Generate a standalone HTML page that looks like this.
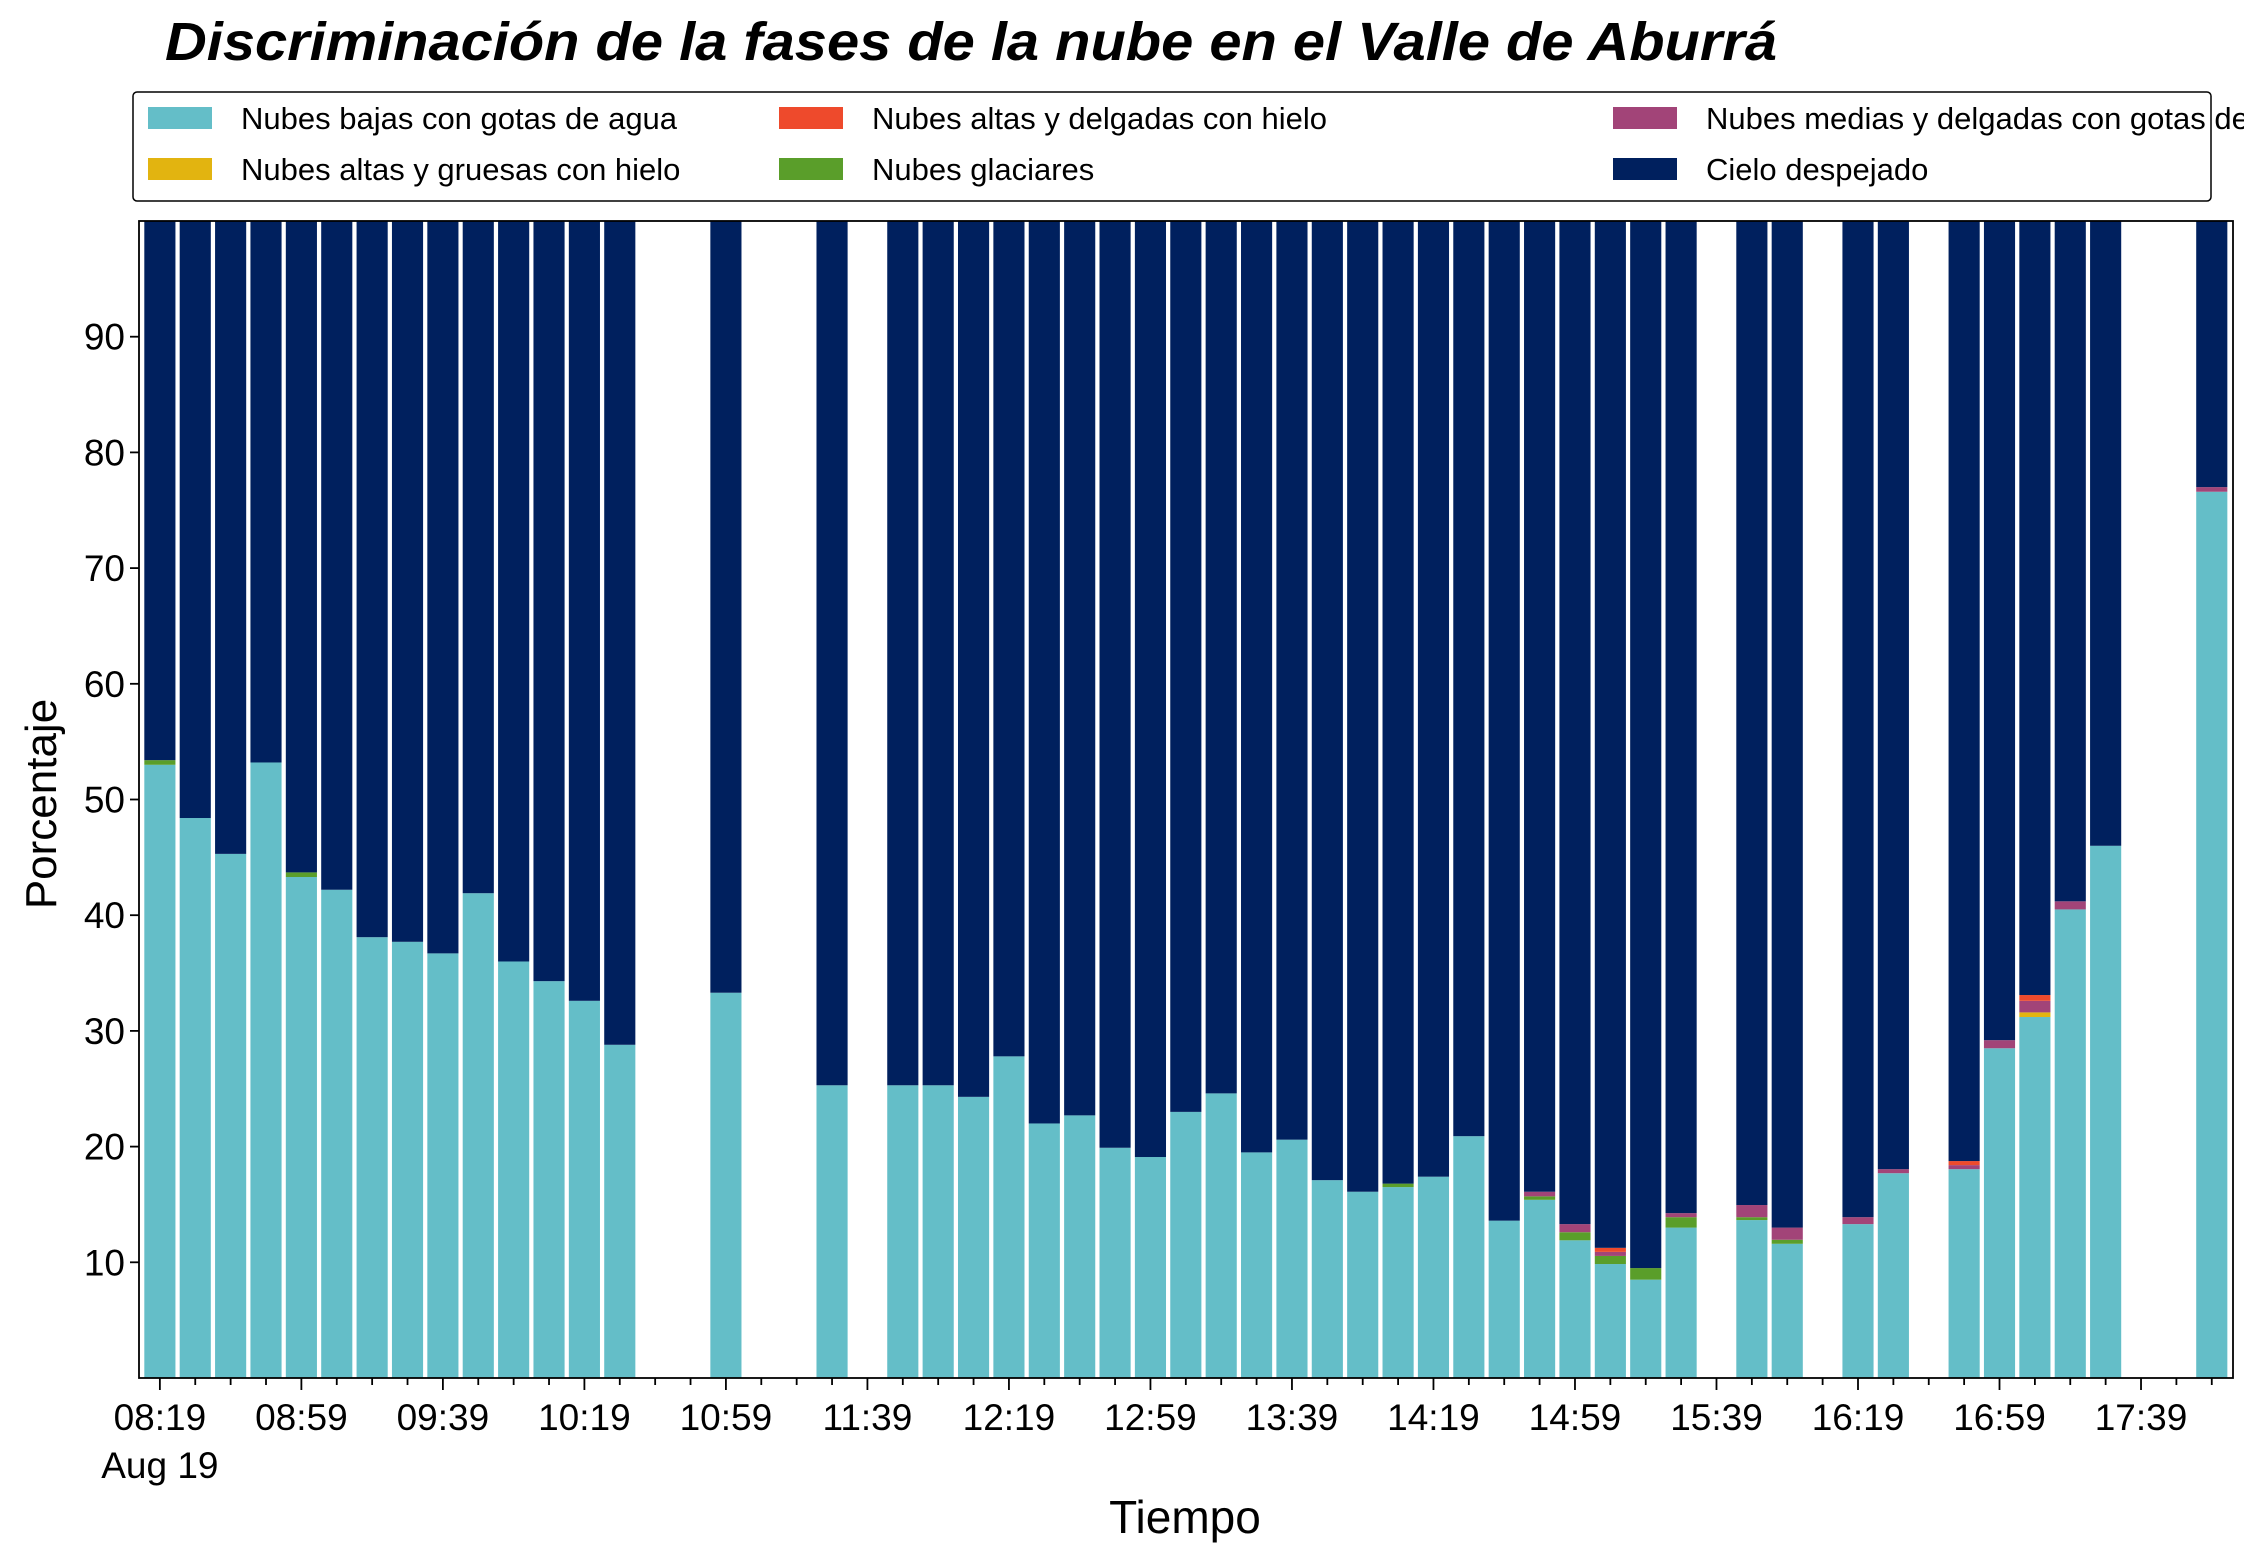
<!DOCTYPE html>
<html><head><meta charset="utf-8"><style>
html,body{margin:0;padding:0;background:#fff;}
svg{display:block;font-family:"Liberation Sans","DejaVu Sans",sans-serif;}
</style></head><body>
<svg id="chart" width="2244" height="1559" viewBox="0 0 2244 1559" xmlns="http://www.w3.org/2000/svg">
<text x="165" y="60" font-size="54" font-weight="bold" font-style="italic" textLength="1612" lengthAdjust="spacingAndGlyphs">Discriminación de la fases de la nube en el Valle de Aburrá</text>
<g id="legend">
<rect x="133" y="92" width="2078" height="109" rx="4" fill="#fff" stroke="#000" stroke-width="1.5"/>
</g>
<g id="bars"></g>
<g id="axes"></g>
<text x="1185" y="1533" font-size="46" text-anchor="middle">Tiempo</text>
<text x="0" y="0" font-size="44" text-anchor="middle" transform="translate(56,804) rotate(-90)">Porcentaje</text>
</svg>
<script>
const slots = [0,1,2,3,4,5,6,7,8,9,10,11,12,13,16,19,21,22,23,24,25,26,27,28,29,30,31,32,33,34,35,36,37,38,39,40,41,42,43,45,46,48,49,51,52,53,54,55,58];
const lowWater = [53.0,48.4,45.3,53.2,43.3,42.2,38.1,37.7,36.7,41.9,36.0,34.3,32.6,28.8,33.3,25.3,25.3,25.3,24.3,27.8,22.0,22.7,19.9,19.1,23.0,24.6,19.5,20.6,17.1,16.1,16.5,17.4,20.9,13.6,15.4,11.9,9.85,8.5,13.0,13.65,11.6,13.3,17.7,18.05,28.5,31.2,40.5,46.0,76.6];
const glacial = [0.4,0,0,0,0.4,0,0,0,0,0,0,0,0,0,0,0,0,0,0,0,0,0,0,0,0,0,0,0,0,0,0.3,0,0,0,0.3,0.7,0.7,1.0,0.9,0.25,0.35,0,0,0,0,0,0,0,0];
const highThick = [0,0,0,0,0,0,0,0,0,0,0,0,0,0,0,0,0,0,0,0,0,0,0,0,0,0,0,0,0,0,0,0,0,0,0,0,0,0,0,0,0,0,0,0,0,0.4,0,0,0];
const midThin = [0,0,0,0,0,0,0,0,0,0,0,0,0,0,0,0,0,0,0,0,0,0,0,0,0,0,0,0,0,0,0,0,0,0,0.4,0.7,0.35,0,0.35,1.05,1.05,0.6,0.35,0.35,0.7,1.0,0.7,0,0.4];
const highThin = [0,0,0,0,0,0,0,0,0,0,0,0,0,0,0,0,0,0,0,0,0,0,0,0,0,0,0,0,0,0,0,0,0,0,0,0,0.35,0,0,0,0,0,0,0.35,0,0.5,0,0,0];
const yTicks = [10,20,30,40,50,60,70,80,90];
const xTickLabels = ["08:19","08:59","09:39","10:19","10:59","11:39","12:19","12:59","13:39","14:19","14:59","15:39","16:19","16:59","17:39"];
const seriesNames = ["Nubes bajas con gotas de agua","Nubes glaciares","Nubes altas y gruesas con hielo","Nubes medias y delgadas con gotas de agua","Nubes altas y delgadas con hielo","Cielo despejado"];
const colors = ["#64bec8","#5a9e2a","#e2b410","#a24478","#ee4a2c","#00205e"];

const NS="http://www.w3.org/2000/svg";
const L=139,R=2233,T=221,B=1378;
const x0=-0.59,x1=58.6;
function xs(i){return L+(i-x0)/(x1-x0)*(R-L);}
function ys(v){return B-v/100*(B-T);}
const slotW=xs(1)-xs(0), bw=slotW*0.88;
function mk(tag,attrs,parent){const e=document.createElementNS(NS,tag);for(const k in attrs)e.setAttribute(k,attrs[k]);parent.appendChild(e);return e;}

const bars=document.getElementById('bars');
slots.forEach((s,i)=>{
  const vals=[lowWater[i],glacial[i],highThick[i],midThin[i],highThin[i]];
  let acc=0;
  vals.forEach((v,k)=>{
    if(v>0){
      const r=mk('rect',{x:xs(s)-bw/2,y:ys(acc+v),width:bw,height:ys(acc)-ys(acc+v),fill:colors[k]},bars);
      
      
    }
    acc+=v;
  });
  const r=mk('rect',{x:xs(s)-bw/2,y:ys(100),width:bw,height:ys(acc)-ys(100),fill:colors[5]},bars);
  
  
});

const ax=document.getElementById('axes');
const frame=mk('rect',{x:L,y:T,width:R-L,height:B-T,fill:'none',stroke:'#000','stroke-width':1.8},ax);


yTicks.forEach(v=>{
  mk('line',{x1:L-9,x2:L,y1:ys(v),y2:ys(v),stroke:'#000','stroke-width':1.8},ax);
  const t=mk('text',{x:L-14,y:ys(v)+13,'font-size':37,'text-anchor':'end'},ax);
  t.textContent=v;
  
  
});
for(let s=0;s<=58;s++){
  const major=s%4===0;
  mk('line',{x1:xs(s),x2:xs(s),y1:B,y2:B+(major?12:7),stroke:'#000','stroke-width':1.8},ax);
}
xTickLabels.forEach((lab,j)=>{
  const t=mk('text',{x:xs(j*4),y:B+52,'font-size':37,'text-anchor':'middle'},ax);
  t.textContent=lab;
  
  
});
const d=mk('text',{x:xs(0),y:B+100,'font-size':37,'text-anchor':'middle'},ax);
d.textContent="Aug 19";



const lg=document.getElementById('legend');
const order=[0,2,4,1,3,5];
const colX=[148,779,1613], rowY=[118,169];
order.forEach((k,idx)=>{
  const c=Math.floor(idx/2), r=idx%2;
  const sw=mk('rect',{x:colX[c],y:rowY[r]-11,width:64,height:22,fill:colors[k]},lg);
  
  
  const t=mk('text',{x:colX[c]+93,y:rowY[r]+11,'font-size':31},lg);
  t.textContent=seriesNames[k];
  
  
});
</script>
</body></html>
